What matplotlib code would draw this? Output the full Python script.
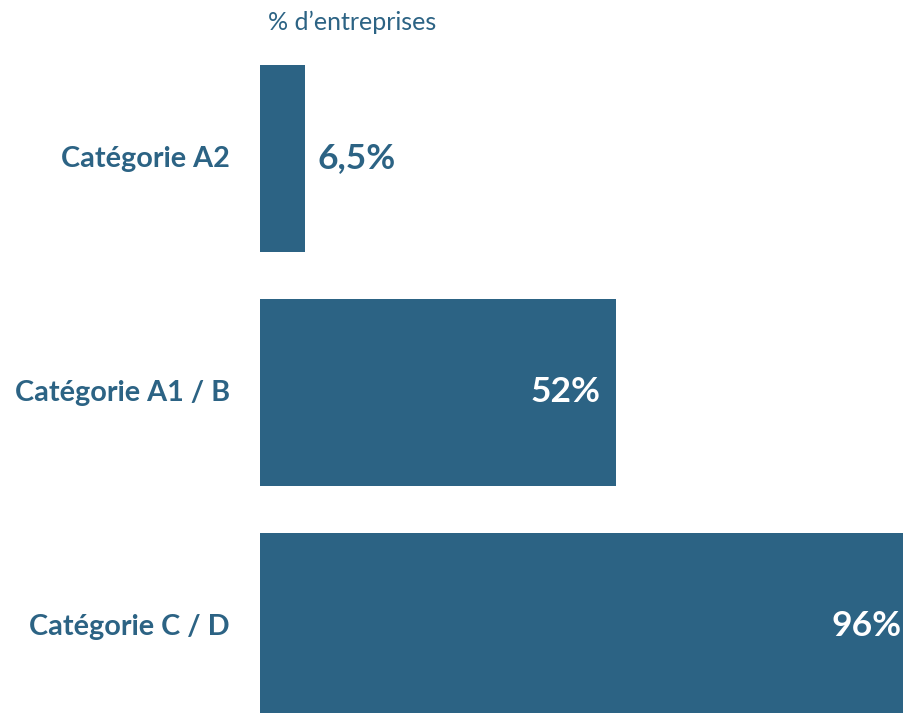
import matplotlib
matplotlib.use("Agg")
import matplotlib.pyplot as plt

categories = ["Catégorie A2", "Catégorie A1 / B", "Catégorie C / D"]
values = [6.5, 52, 96]
value_labels = ["6,5%", "52%", "96%"]

bleu = "#2c6384"
plt.rcParams['font.family'] = ['Lato', 'DejaVu Sans']

fig = plt.figure(figsize=(9.04, 7.13), dpi=100)
# 0 % at x=260 px, about 6.85 px per point
ax = fig.add_axes([260 / 904, 0, 644 / 904, 1])
pos = list(range(len(categories)))
ax.barh(pos, values, height=0.8, color=bleu)
ax.set_xlim(0, 644 / 6.85)
ax.set_ylim(2 + 86.5 / 234, -158.5 / 234)
ax.axis("off")

for p, v, lab, cat in zip(pos, values, value_labels, categories):
    if v < 20:
        ax.annotate(lab, (v, p), xytext=(13, 0), textcoords="offset pixels",
                    ha="left", va="center", color=bleu, fontsize=25.5, fontweight="bold")
    else:
        ax.annotate(lab, (v, p), xytext=(-16, 0), textcoords="offset pixels",
                    ha="right", va="center", color="white", fontsize=25.5, fontweight="bold",
                    annotation_clip=False)
    ax.annotate(cat, (0, p), xytext=(-30, 0), textcoords="offset pixels",
                ha="right", va="center", color=bleu, fontsize=20.7, fontweight="bold",
                annotation_clip=False)

fig.text(268 / 904, 1 - 22 / 713, "% d\u2019entreprises", ha="left", va="center",
         color=bleu, fontsize=18)

fig.savefig("out.png", dpi=100)
